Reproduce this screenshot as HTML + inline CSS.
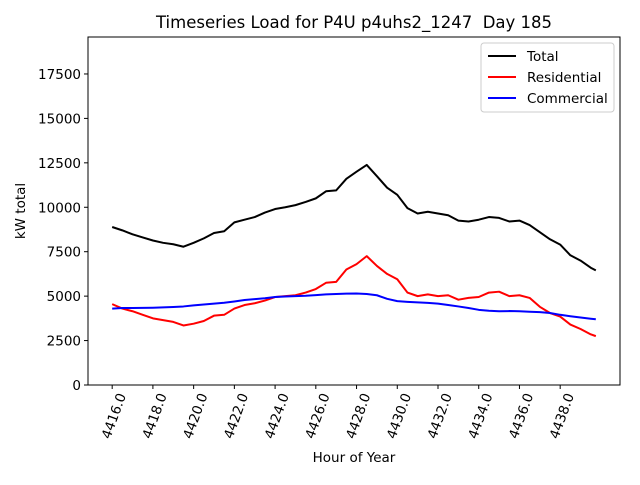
<!DOCTYPE html>
<html><head><meta charset="utf-8"><style>
body{margin:0;background:#fff;}
svg{font-family:"DejaVu Sans","Liberation Sans",sans-serif;}
</style></head><body>
<svg id="chart" width="640" height="480" viewBox="0 0 640 480">
<rect width="640" height="480" fill="#fff"/>
<text x="354" y="28" text-anchor="middle" font-size="16.5">Timeseries Load for P4U p4uhs2_1247&#160; Day 185</text>
<g id="plot"></g>
<text x="354" y="462" text-anchor="middle" font-size="13.5">Hour of Year</text>
<text transform="translate(25,211) rotate(-90)" text-anchor="middle" font-size="13.5">kW total</text>
<g>
<rect x="481" y="43" width="133" height="69" rx="3" fill="#fff" stroke="#ccc"/>
<line x1="488" y1="56" x2="516" y2="56" stroke="#000" stroke-width="2"/>
<text x="527" y="61" font-size="13.5">Total</text>
<line x1="488" y1="77" x2="516" y2="77" stroke="#f00" stroke-width="2"/>
<text x="527" y="82" font-size="13.5">Residential</text>
<line x1="488" y1="98" x2="516" y2="98" stroke="#00f" stroke-width="2"/>
<text x="527" y="103" font-size="13.5">Commercial</text>
</g>
</svg>
<script>
const hours = [4416,4416.5,4417,4417.5,4418,4418.5,4419,4419.5,4420,4420.5,4421,4421.5,4422,4422.5,4423,4423.5,4424,4424.5,4425,4425.5,4426,4426.5,4427,4427.5,4428,4428.5,4429,4429.5,4430,4430.5,4431,4431.5,4432,4432.5,4433,4433.5,4434,4434.5,4435,4435.5,4436,4436.5,4437,4437.5,4438,4438.5,4439,4439.5,4439.75];
const total = [8890,8700,8480,8300,8130,8000,7920,7780,8000,8250,8550,8650,9150,9300,9450,9700,9900,10000,10120,10300,10500,10900,10950,11600,12000,12380,11750,11100,10700,9950,9650,9750,9650,9550,9250,9200,9300,9450,9400,9200,9250,9000,8600,8200,7900,7300,7000,6600,6450];
const residential = [4550,4300,4150,3950,3750,3650,3550,3350,3450,3600,3900,3950,4300,4500,4600,4750,4950,5000,5050,5200,5400,5750,5800,6500,6800,7250,6700,6250,5950,5200,5000,5100,5000,5050,4800,4900,4950,5200,5250,5000,5050,4900,4400,4050,3850,3400,3150,2850,2750];
const commercial = [4300,4330,4330,4340,4350,4370,4390,4420,4480,4530,4580,4630,4700,4780,4830,4880,4950,4980,5000,5020,5060,5100,5120,5140,5150,5120,5050,4850,4720,4680,4650,4620,4580,4500,4420,4330,4230,4180,4150,4160,4150,4120,4100,4050,3950,3870,3800,3730,3700];
const xTicks = [4416,4418,4420,4422,4424,4426,4428,4430,4432,4434,4436,4438];
const yTicks = [0,2500,5000,7500,10000,12500,15000,17500];

const L=88,R=620,T=37,B=385;
const xMin=4414.8125,xMax=4440.9375,yMin=0,yMax=19580;
const sx=v=>L+(v-xMin)/(xMax-xMin)*(R-L);
const sy=v=>B-(v-yMin)/(yMax-yMin)*(B-T);
const NS="http://www.w3.org/2000/svg";
const g=document.getElementById('plot');
function mk(tag,attrs){const e=document.createElementNS(NS,tag);for(const k in attrs)e.setAttribute(k,attrs[k]);g.appendChild(e);return e;}

xTicks.forEach(t=>{
  const x=sx(t);
  const tk=mk('line',{x1:x,y1:B,x2:x,y2:B+4,stroke:'#000','stroke-width':1});
  
  
  const tx=mk('text',{x:x+5,y:392,'text-anchor':'end','font-size':13.5,transform:`rotate(-70 ${x+5} 392)`,'dominant-baseline':'hanging'});
  tx.textContent=t.toFixed(1);
  
  
});
yTicks.forEach(t=>{
  const y=sy(t);
  const tk=mk('line',{x1:L-4,y1:y,x2:L,y2:y,stroke:'#000','stroke-width':1});
  
  
  const tx=mk('text',{x:L-7,y:y+5,'text-anchor':'end','font-size':13.5});
  tx.textContent=t;
  
  
});
function line(data,color,name){
  const d=data.map((v,i)=>(i?'L':'M')+sx(hours[i]).toFixed(2)+','+sy(v).toFixed(2)).join('');
  const p=mk('path',{d:d,fill:'none',stroke:color,'stroke-width':2,'stroke-linejoin':'round'});
  
  
}
line(total,'#000','total-line');
line(residential,'#f00','residential-line');
line(commercial,'#00f','commercial-line');
const fr=mk('rect',{x:L,y:T,width:R-L,height:B-T,fill:'none',stroke:'#000','stroke-width':1});


</script>
</body></html>
